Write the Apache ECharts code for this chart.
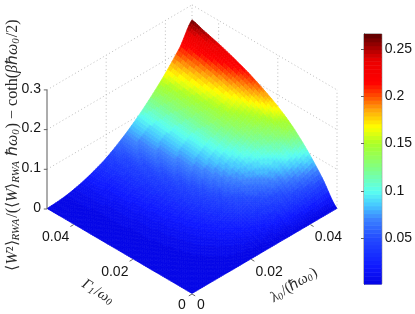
<!DOCTYPE html>
<html><head><meta charset="utf-8">
<style>html,body{margin:0;padding:0;background:#fff}#c{width:415px;height:314px}</style>
<script src="https://cdn.jsdelivr.net/npm/echarts@6/dist/echarts.min.js"></script>
</head><body><div id="c"></div>
<script>
// ---- data ----
const gammaValues  = [0,0.005,0.01,0.015,0.02,0.025,0.03,0.035,0.04,0.045,0.049];
const lambdaValues = [0,0.005,0.01,0.015,0.02,0.025,0.03,0.035,0.04,0.045,0.049];
// rows: gammaValues, columns: lambdaValues
const zRows = [
 [.0014,.0014,.0014,.0014,.0014,.0015,.0015,.0015,.0015,.0016,.0016],
 [.0014,.0014,.0024,.0052,.0088,.0139,.0205,.0300,.0385,.0485,.0567],
 [.0014,.0016,.0045,.0094,.0160,.0260,.0395,.0540,.0705,.0885,.1035],
 [.0014,.0021,.0061,.0129,.0225,.0360,.0540,.0740,.0960,.1200,.1420],
 [.0014,.0026,.0074,.0156,.0270,.0435,.0650,.0890,.1150,.1390,.1710],
 [.0014,.0029,.0083,.0176,.0305,.0490,.0730,.0995,.1290,.1570,.1935],
 [.0014,.0032,.0091,.0193,.0332,.0530,.0790,.1080,.1400,.1720,.2125],
 [.0014,.0034,.0098,.0208,.0355,.0565,.0825,.1120,.1455,.1845,.2280],
 [.0014,.0036,.0104,.0221,.0377,.0595,.0863,.1174,.1531,.1954,.2415],
 [.0014,.0038,.0109,.0232,.0394,.0624,.0903,.1229,.1603,.2046,.2525],
 [.0014,.0040,.0115,.0240,.0410,.0650,.0940,.1280,.1670,.2120,.2625]
];
const gammaTicks  = [0,0.02,0.04];
const lambdaTicks = [0,0.02,0.04];
const zTicks      = [0,0.1,0.2,0.3];
const barTicks    = [0.05,0.1,0.15,0.2,0.25];
const colorStops  = [0.0014,0.02,0.05,0.07,0.085,0.1,0.125,0.15,0.168,0.185,0.2,0.215,0.238,0.252,0.266];
const colorValues = [[4,4,228],[15,25,255],[35,75,255],[60,130,255],[70,200,255],[90,255,240],[130,255,130],[170,255,40],[255,255,0],[255,170,10],[255,80,0],[255,0,0],[235,0,0],[165,0,0],[90,0,0]];
const gammaTitle  = '{i|\u0393}{s|1}{r|/}{i|\u03c9}{s|0}';
const lambdaTitle = '{i|\u03bb}{s|0}{r|/(\u210f}{i|\u03c9}{s|0}{r|)}';
const zTitle = '{r|\u27e8}{i|W}{r|\u00b2\u27e9}{s|RWA}{r|/(\u27e8}{i|W}{r|\u27e9}{s|RWA}{r| \u210f}{i|\u03c9}{s|0}{r|) \u2212 coth(}{i|\u03b2}{r|\u210f}{i|\u03c9}{s|0}{r|/2)}';

// ---- view ----
const axisMax = 0.049, cx = 192, fy = 294, wx = 145, wy = 85, zs = 397, zMax = 0.3, levels = 64;
const SUB = 7;
function proj(g, l, z) {
  const s = g / axisMax, t = l / axisMax;
  return [cx + wx * (t - s), fy - wy * (s + t) - zs * z];
}
function colorOf(z) {
  const lo = colorStops[0], hi = colorStops[colorStops.length - 1];
  let k = Math.floor((z - lo) / (hi - lo) * levels);
  k = Math.max(0, Math.min(levels - 1, k));
  const v = lo + (k + 0.5) / levels * (hi - lo);
  let i = 0;
  while (i < colorStops.length - 2 && v > colorStops[i + 1]) i++;
  const f = (v - colorStops[i]) / (colorStops[i + 1] - colorStops[i]);
  const a = colorValues[i], b = colorValues[i + 1];
  return 'rgb(' + [0,1,2].map(c => Math.round(a[c] + (b[c] - a[c]) * f)).join(',') + ')';
}
function cr(p0, p1, p2, p3, u) {
  return 0.5 * (2 * p1 + (p2 - p0) * u + (2 * p0 - 5 * p1 + 4 * p2 - p3) * u * u + (3 * p1 - p0 - 3 * p2 + p3) * u * u * u);
}
const N = zRows.length;
const cl = i => Math.max(0, Math.min(N - 1, i));
function pickZ(a, b) {
  const i = Math.min(N - 2, Math.floor(a)), j = Math.min(N - 2, Math.floor(b));
  const u = a - i, w = b - j, col = [];
  for (let r = -1; r <= 2; r++) {
    const row = zRows[cl(i + r)];
    col.push(cr(row[cl(j - 1)], row[j], row[j + 1], row[cl(j + 2)], w));
  }
  return cr(col[0], col[1], col[2], col[3], u);
}
function pickAxis(arr, a) {
  const i = Math.min(N - 2, Math.floor(a));
  return arr[i] + (arr[i + 1] - arr[i]) * (a - i);
}
// cells, back corner first
const cells = [];
for (let i = N - 2; i >= 0; i--) for (let j = N - 2; j >= 0; j--) cells.push([i, j]);
cells.sort((p, q) => (q[0] + q[1]) - (p[0] + p[1]));

function renderSurface(params, api) {
  const i = api.value(0), j = api.value(1), children = [];
  for (let a = SUB - 1; a >= 0; a--) for (let b = SUB - 1; b >= 0; b--) {
    const pts = [], zz = [];
    [[0,0],[1,0],[1,1],[0,1]].forEach(o => {
      const ga = i + (a + o[0]) / SUB, la = j + (b + o[1]) / SUB;
      const z = Math.max(0.0014, pickZ(ga, la));
      zz.push(z);
      pts.push(api.coord(proj(pickAxis(gammaValues, ga), pickAxis(lambdaValues, la), z)));
    });
    const c = colorOf((zz[0] + zz[1] + zz[2] + zz[3]) / 4);
    children.push({type:'polygon', shape:{points:pts}, style:{fill:c, stroke:c, lineWidth:0.7}, silent:true});
  }
  return {type:'group', children};
}

// dotted walls: [g1,l1,z1,g2,l2,z2]
const walls = [];
zTicks.forEach(z => { if (z > 0) {
  walls.push([axisMax,0,z,axisMax,axisMax,z]);
  walls.push([axisMax,axisMax,z,0,axisMax,z]);
}});
lambdaTicks.forEach(l => { if (l > 0) walls.push([axisMax,l,0,axisMax,l,zMax]); });
gammaTicks.forEach(g => { if (g > 0) walls.push([g,axisMax,0,g,axisMax,zMax]); });
walls.push([axisMax,axisMax,0,axisMax,axisMax,zMax]);
walls.push([0,axisMax,0,0,axisMax,zMax]);
function renderWall(params, api) {
  const a = api.coord(proj(api.value(0),api.value(1),api.value(2)));
  const b = api.coord(proj(api.value(3),api.value(4),api.value(5)));
  return {type:'line', shape:{x1:a[0],y1:a[1],x2:b[0],y2:b[1]}, style:{stroke:'#bdbdbd',lineWidth:1,lineDash:[1,2.6]}, silent:true};
}
// axes: lines, ticks, labels
const tickFont = '14px "Liberation Sans"';
function tickItems() {
  const T = 3.2;
  const line = (p, dx, dy, col) => ({type:'line', shape:{x1:p[0],y1:p[1],x2:p[0]+dx,y2:p[1]+dy}, style:{stroke:col||'#666',lineWidth:1}, silent:true});
  const lab = (t, p, dx, dy, al) => ({type:'text', x:p[0]+dx, y:p[1]+dy, style:{text:t, font:tickFont, fill:'#151515', align:al||'center', verticalAlign:'middle'}, silent:true});
  return {line, lab, T};
}
function renderAxes(params, api) {
  const h = tickItems(), c = [];
  const P = (g,l,z) => api.coord(proj(g,l,z));
  const zb = P(axisMax,0,0), zt = P(axisMax,0,zMax);
  c.push({type:'line', shape:{x1:zb[0],y1:zb[1],x2:zt[0],y2:zt[1]}, style:{stroke:'#5a5a5a',lineWidth:1}, silent:true});
  zTicks.forEach(z => { const p = P(axisMax,0,z); c.push(h.line(p,-h.T,0)); c.push(h.lab(String(z),p,-6,-1,'right')); });
  gammaTicks.forEach(g => { const p = P(g,0,0); c.push(h.line(p,-h.T,1.9)); c.push(h.lab(String(g),p,g===0?-10:-18,g===0?11:13)); });
  lambdaTicks.forEach(l => { const p = P(0,l,0); c.push(h.line(p,h.T,1.9)); c.push(h.lab(String(l),p,l===0?9:18,l===0?11:13)); });
  const sty = (t, fs) => ({text:t, align:'center', verticalAlign:'middle', fill:'#2a2a2a', rich:{
    r:{font:fs+'px "Liberation Serif"',fill:'#2a2a2a'},
    i:{font:'italic '+fs+'px "Liberation Serif"',fill:'#2a2a2a'},
    s:{font:'italic '+(fs-5)+'px "Liberation Serif"',fill:'#2a2a2a',padding:[6,1,0,0]}
  }});
  c.push({type:'text', x:98, y:292, rotation:-Math.PI/180*32, style:sty(gammaTitle,15), silent:true});
  c.push({type:'text', x:294, y:285, rotation:Math.PI/180*32, style:sty(lambdaTitle,15), silent:true});
  c.push({type:'text', x:13, y:145, rotation:Math.PI/2, style:sty(zTitle,16), silent:true});
  return {type:'group', children:c};
}
// colour bar
const barData = [];
for (let k = 0; k < levels; k++) barData.push([k]);
const barLo = colorStops[0], barHi = colorStops[colorStops.length - 1];
function renderBar(params, api) {
  const k = api.value(0), step = (barHi - barLo) / levels;
  const a = api.coord([0, barLo + k * step]), b = api.coord([1, barLo + (k + 1) * step]);
  const col = colorOf(barLo + (k + 0.5) * step);
  return {type:'rect', shape:{x:a[0], y:b[1], width:b[0]-a[0], height:a[1]-b[1]+0.5}, style:{fill:col}, silent:true};
}

const chart = echarts.init(document.getElementById('c'));
chart.setOption({
  animation:false,
  backgroundColor:'#fff',
  grid:[{left:0,top:0,width:415,height:314,show:false},{left:364,top:34,width:19,height:250,show:true,borderColor:'#777',borderWidth:1,backgroundColor:'transparent'}],
  xAxis:[{type:'value',min:0,max:415,show:false,gridIndex:0},{type:'value',min:0,max:1,show:false,gridIndex:1}],
  yAxis:[
    {type:'value',min:0,max:314,inverse:true,show:false,gridIndex:0},
    {type:'value',min:barLo,max:barHi,gridIndex:1,position:'right',splitLine:{show:false},
     axisLine:{show:true,lineStyle:{color:'#222'}},
     axisTick:{show:true,inside:true,length:3,lineStyle:{color:'#666'},customValues:barTicks},
     axisLabel:{show:true,margin:3,fontFamily:'Liberation Sans',fontSize:14,color:'#151515',customValues:barTicks,formatter:v=>String(v)}},
    {type:'value',min:barLo,max:barHi,gridIndex:1,position:'left',splitLine:{show:false},
     axisLine:{show:true,lineStyle:{color:'#777'}},
     axisTick:{show:true,inside:true,length:3,lineStyle:{color:'#666'},customValues:barTicks},
     axisLabel:{show:false}}
  ],
  series:[
    {type:'custom',xAxisIndex:0,yAxisIndex:0,data:walls,renderItem:renderWall,clip:false,silent:true,z:1},
    {type:'custom',xAxisIndex:0,yAxisIndex:0,data:cells,renderItem:renderSurface,clip:false,silent:true,z:2,progressive:0},
    {type:'custom',xAxisIndex:0,yAxisIndex:0,data:[[0]],renderItem:renderAxes,clip:false,silent:true,z:3},
    {type:'custom',xAxisIndex:1,yAxisIndex:1,data:barData,renderItem:renderBar,silent:true,z:2,progressive:0}
  ]
});
</script></body></html>
